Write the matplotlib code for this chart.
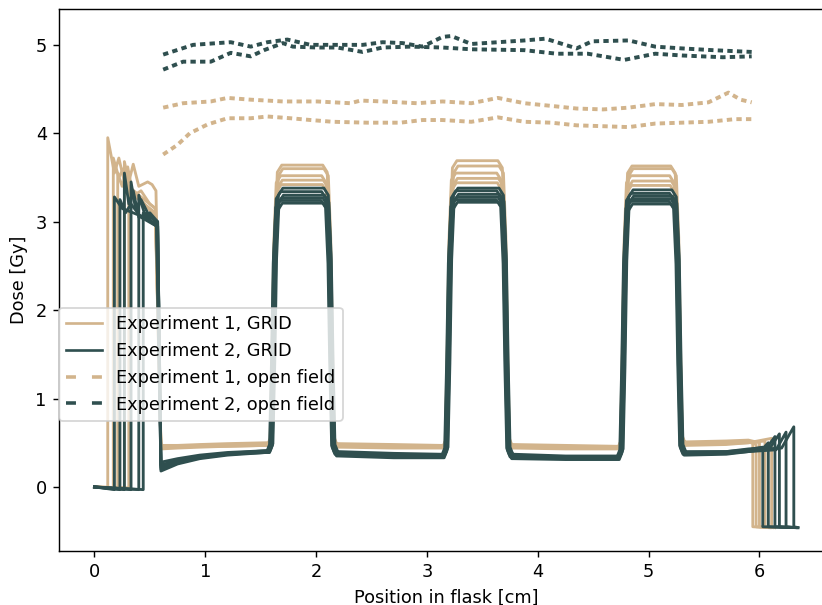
import matplotlib
matplotlib.use("Agg")
import matplotlib.pyplot as plt
from matplotlib.lines import Line2D

plt.rcParams["lines.scale_dashes"] = False

TAN = "tan"
SLATE = "darkslategray"

# ---------------- GRID profiles, experiment 1 (5 films) ----------------
e1_rise = [0.12, 0.17, 0.21, 0.27, 0.31]
e1_left_x = [
    [0.12, 0.18, 0.22, 0.27, 0.35, 0.45, 0.55],
    [0.17, 0.22, 0.26, 0.31, 0.40, 0.55],
    [0.21, 0.25, 0.30, 0.34, 0.42, 0.55],
    [0.27, 0.31, 0.35, 0.40, 0.48, 0.52, 0.555],
    [0.31, 0.36, 0.42, 0.50, 0.55],
]
e1_left_y = [
    [3.95, 3.55, 3.72, 3.45, 3.30, 3.20, 3.10],
    [3.72, 3.50, 3.60, 3.40, 3.30, 3.15],
    [3.55, 3.40, 3.62, 3.35, 3.25, 3.05],
    [3.68, 3.45, 3.65, 3.40, 3.45, 3.42, 3.35],
    [3.40, 3.30, 3.35, 3.20, 3.15],
]
e1_valA = [[0.44, 0.45, 0.46, 0.47, 0.48],
           [0.46, 0.46, 0.47, 0.48, 0.49],
           [0.43, 0.44, 0.45, 0.46, 0.47],
           [0.47, 0.47, 0.48, 0.49, 0.50],
           [0.45, 0.45, 0.46, 0.46, 0.47]]
e1_valB = [[0.48, 0.47, 0.46], [0.46, 0.45, 0.45], [0.45, 0.44, 0.44],
           [0.49, 0.48, 0.47], [0.47, 0.46, 0.45]]
e1_valC = [[0.47, 0.46, 0.45], [0.45, 0.44, 0.44], [0.44, 0.43, 0.43],
           [0.48, 0.47, 0.46], [0.46, 0.45, 0.44]]
e1_valD = [[0.50, 0.50, 0.52], [0.48, 0.49, 0.50], [0.47, 0.48, 0.50],
           [0.51, 0.52, 0.53], [0.49, 0.50, 0.51]]
e1_top = [[3.64, 3.69, 3.63], [3.60, 3.63, 3.60], [3.52, 3.55, 3.52],
          [3.47, 3.49, 3.46], [3.42, 3.44, 3.41]]
e1_shift = [0.0, 0.01, -0.01, 0.005, -0.005]
e1_drop = [5.94, 6.05, 6.11, 6.00, 5.97]
e1_pre = [0.50, 0.52, 0.55, 0.50, 0.48]
e1_tail = [6.08, 6.12, 6.14, 6.10, 6.09]

# ---------------- GRID profiles, experiment 2 (6 films) ----------------
e2_rise = [0.18, 0.23, 0.27, 0.33, 0.40, 0.44]
e2_left_x = [
    [0.18, 0.25, 0.35, 0.45, 0.56],
    [0.23, 0.28, 0.33, 0.42, 0.56],
    [0.27, 0.31, 0.35, 0.40, 0.50, 0.57],
    [0.33, 0.37, 0.42, 0.50, 0.57],
    [0.40, 0.45, 0.52, 0.57],
    [0.44, 0.50, 0.57],
]
e2_left_y = [
    [3.28, 3.15, 3.10, 3.05, 2.95],
    [3.25, 3.10, 3.20, 3.05, 2.95],
    [3.55, 3.20, 3.35, 3.05, 3.10, 3.00],
    [3.45, 3.15, 3.25, 3.05, 3.00],
    [3.30, 3.10, 3.05, 2.95],
    [3.10, 3.02, 2.95],
]
e2_valA = [[0.18, 0.26, 0.32, 0.36, 0.39],
           [0.22, 0.28, 0.33, 0.37, 0.40],
           [0.25, 0.30, 0.35, 0.38, 0.41],
           [0.28, 0.32, 0.36, 0.39, 0.41],
           [0.20, 0.27, 0.33, 0.37, 0.40],
           [0.24, 0.30, 0.34, 0.37, 0.39]]
e2_valB = [[0.38, 0.36, 0.36], [0.37, 0.35, 0.35], [0.40, 0.38, 0.37],
           [0.36, 0.34, 0.34], [0.39, 0.37, 0.36], [0.35, 0.33, 0.33]]
e2_valC = [[0.35, 0.34, 0.34], [0.34, 0.33, 0.33], [0.37, 0.35, 0.35],
           [0.33, 0.32, 0.32], [0.36, 0.34, 0.34], [0.32, 0.31, 0.31]]
e2_valD = [[0.38, 0.39, 0.42], [0.37, 0.38, 0.41], [0.40, 0.40, 0.43],
           [0.36, 0.37, 0.40], [0.39, 0.40, 0.42], [0.37, 0.38, 0.40]]
e2_top = [[3.38, 3.38, 3.36], [3.34, 3.35, 3.32], [3.30, 3.31, 3.29],
          [3.27, 3.28, 3.26], [3.24, 3.25, 3.23], [3.21, 3.22, 3.20]]
e2_shift = [0.01, -0.01, 0.015, 0.0, -0.015, 0.005]
e2_ramp = [5.98, 6.06, 6.10, 6.15, 6.20, 6.02]
e2_drop = [6.03, 6.14, 6.18, 6.24, 6.31, 6.08]
e2_pre = [0.45, 0.57, 0.60, 0.62, 0.68, 0.50]
e2_tail = [6.33, 6.33, 6.34, 6.34, 6.35, 6.33]

# shared positions of the valley samples and stripe edges [cm]
valA_x = [0.60, 0.75, 0.95, 1.20, 1.55]
valB_x = [2.20, 2.70, 3.13]
valC_x = [3.78, 4.25, 4.71]
valD_x = [5.34, 5.70, 5.90]
stripe_edges = [(1.62, 2.13), (3.20, 3.71), (4.78, 5.27)]

# ---------------- open field profiles ----------------
of1a_x = [0.62, 0.80, 1.05, 1.20, 1.41, 1.70, 2.01, 2.31, 2.40, 2.60, 2.91, 3.14,
          3.40, 3.64, 3.88, 4.12, 4.35, 4.59, 4.82, 5.06, 5.30, 5.54, 5.72, 5.83, 5.93]
of1a_y = [4.29, 4.34, 4.36, 4.40, 4.38, 4.36, 4.36, 4.34, 4.37, 4.36, 4.34, 4.36,
          4.34, 4.40, 4.34, 4.31, 4.28, 4.27, 4.29, 4.33, 4.32, 4.35, 4.46, 4.38, 4.35]
of1b_x = [0.62, 0.75, 0.86, 1.02, 1.20, 1.41, 1.56, 1.77, 1.95, 2.15, 2.46, 2.76, 2.96,
          3.14, 3.40, 3.64, 3.88, 4.12, 4.35, 4.59, 4.82, 5.06, 5.30, 5.54, 5.78, 5.93]
of1b_y = [3.76, 3.87, 4.00, 4.10, 4.17, 4.17, 4.19, 4.17, 4.15, 4.13, 4.12, 4.12, 4.15,
          4.15, 4.13, 4.18, 4.13, 4.12, 4.09, 4.08, 4.07, 4.11, 4.12, 4.13, 4.16, 4.16]
of2a_x = [0.62, 0.89, 1.11, 1.23, 1.41, 1.56, 1.74, 1.95, 2.19, 2.42, 2.60, 2.78, 2.96,
          3.14, 3.22, 3.40, 3.88, 4.07, 4.35, 4.49, 4.82, 5.06, 5.30, 5.58, 5.93]
of2a_y = [4.89, 5.00, 5.02, 5.03, 4.98, 5.03, 5.06, 5.00, 5.00, 5.00, 5.03, 5.02, 4.98,
          5.09, 5.10, 5.01, 5.05, 5.07, 4.96, 5.04, 5.05, 4.98, 4.96, 4.94, 4.92]
of2b_x = [0.62, 0.80, 1.05, 1.23, 1.41, 1.53, 1.70, 1.79, 2.01, 2.19, 2.42, 2.60, 2.85,
          3.14, 3.40, 3.88, 4.17, 4.45, 4.78, 5.06, 5.30, 5.67, 5.93]
of2b_y = [4.72, 4.81, 4.81, 4.91, 4.87, 4.94, 5.02, 4.98, 4.97, 4.97, 4.92, 4.97, 4.98,
          4.97, 4.95, 4.94, 4.90, 4.90, 4.83, 4.90, 4.88, 4.86, 4.87]

ZERO_FLOOR = -0.45
BASE1 = (0.0, -0.01)
BASE2 = (0.0, -0.03)


def stripe(xl, xr, bl, br, top):
    """Vertices of one high-dose stripe with rounded shoulders."""
    xs = [xl - 0.05, xl - 0.025, xl - 0.008, xl + 0.008, xl + 0.03, xl + 0.07,
          xr - 0.07, xr - 0.03, xr - 0.008, xr + 0.008, xr + 0.025, xr + 0.05]
    ys = [bl, bl + 0.08, bl + 0.35 * (top - bl), bl + 0.75 * (top - bl), top - 0.08, top,
          top, top - 0.08, br + 0.75 * (top - br), br + 0.35 * (top - br), br + 0.08, br]
    return xs, ys


def profile(base, rise, lx, ly, vals, tops, shift, drop, pre, tail, ramp=None):
    xs = [0.0, rise]
    ys = [base[0], base[1]]
    xs += lx
    ys += ly
    vA, vB, vC, vD = vals
    xs += valA_x
    ys += vA
    valleys = [(valB_x, vB), (valC_x, vC), (valD_x, vD)]
    prev = vA[-1]
    for (xl, xr), top, (vx, vy) in zip(stripe_edges, tops, valleys):
        sx, sy = stripe(xl + shift, xr + shift, prev, vy[0], top)
        xs += sx + vx
        ys += sy + vy
        prev = vy[-1]
    if ramp is not None:
        xs.append(ramp)
        ys.append(prev + 0.02)
    xs += [drop, drop, tail]
    ys += [pre, ZERO_FLOOR, ZERO_FLOOR - 0.01]
    return xs, ys


fig = plt.figure(figsize=(822 / 128, 605 / 128), dpi=128)
ax = fig.add_axes([0.0721, 0.0893, 0.9418, 0.895])

for i in range(len(e1_rise)):
    x, y = profile(BASE1, e1_rise[i], e1_left_x[i], e1_left_y[i],
                   (e1_valA[i], e1_valB[i], e1_valC[i], e1_valD[i]),
                   e1_top[i], e1_shift[i], e1_drop[i], e1_pre[i], e1_tail[i])
    ax.plot(x, y, color=TAN, lw=1.6)

for i in range(len(e2_rise)):
    x, y = profile(BASE2, e2_rise[i], e2_left_x[i], e2_left_y[i],
                   (e2_valA[i], e2_valB[i], e2_valC[i], e2_valD[i]),
                   e2_top[i], e2_shift[i], e2_drop[i], e2_pre[i], e2_tail[i],
                   ramp=e2_ramp[i])
    ax.plot(x, y, color=SLATE, lw=1.6)

blob = (0, (3.0, 2.4))
for xo, yo in [(of1a_x, of1a_y), (of1b_x, of1b_y)]:
    ax.plot(xo, yo, color=TAN, lw=2.2, linestyle=blob)
for xo, yo in [(of2a_x, of2a_y), (of2b_x, of2b_y)]:
    ax.plot(xo, yo, color=SLATE, lw=2.2, linestyle=blob)

ax.set_xlim(-0.3175, 6.6675)
ax.set_ylim(-0.724, 5.40)
ax.set_xticks(range(0, 7))
ax.set_yticks(range(0, 6))
ax.set_xlabel("Position in flask [cm]")
ax.set_ylabel("Dose [Gy]")

legend_dash = (0, (5.6, 9.0))
handles = [
    Line2D([], [], color=TAN, lw=1.5),
    Line2D([], [], color=SLATE, lw=1.5),
    Line2D([], [], color=TAN, lw=2.0, linestyle=legend_dash),
    Line2D([], [], color=SLATE, lw=2.0, linestyle=legend_dash),
]
labels = ["Experiment 1, GRID", "Experiment 2, GRID",
          "Experiment 1, open field", "Experiment 2, open field"]
ax.legend(handles, labels, loc="upper left", bbox_to_anchor=(0.0, 0.449),
          borderaxespad=0.0)

fig.savefig("out.png", dpi=128)
